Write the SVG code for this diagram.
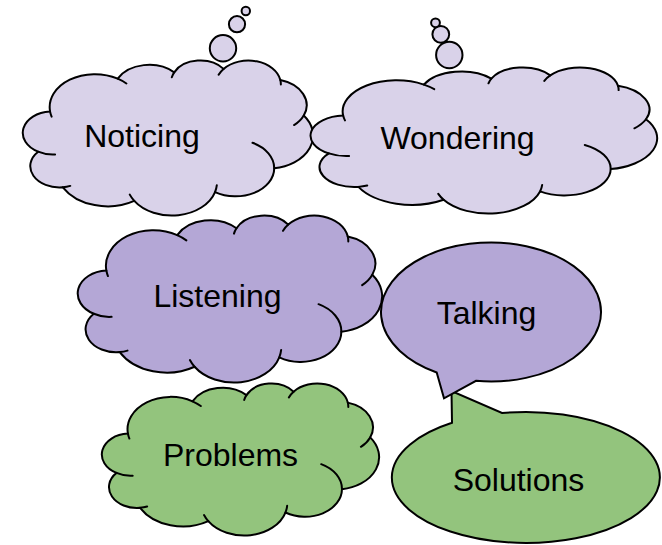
<svg xmlns="http://www.w3.org/2000/svg" xmlns:xlink="http://www.w3.org/1999/xlink" width="662" height="545" viewBox="0 0 662 545">
<style>
.ol { stroke: #000; stroke-width: 2; vector-effect: non-scaling-stroke; stroke-linejoin: round; }
.hk { fill: none; stroke: #000; stroke-width: 2; vector-effect: non-scaling-stroke; stroke-linecap: round; }
.sh { stroke: #000; stroke-width: 2; stroke-linejoin: miter; }
.lt { fill: #D9D2E9; }
.md { fill: #B4A7D6; }
.gr { fill: #93C47D; }
text { font-family: "Liberation Sans", Arial, sans-serif; font-size: 32px; fill: #000; text-anchor: middle; }
</style>
<defs>
<path id="cloud" class="ol" d="M3900,14370 A6753,9190 0 0,1 14005,5202 A5333,7267 0 0,1 22456,3432 A4365,5945 0 0,1 29833,2481 A4857,6595 0 0,1 38318,5576 A5333,7273 0 0,1 41819,15460 A6775,9220 0 0,1 37405,30203 A5785,7867 0 0,1 28556,36813 A6752,9215 0 0,1 16481,39264 A7720,10543 0 0,1 5805,35470 A4360,5918 0 0,1 2114,25548 A4345,5945 0 0,1 3900,14370 Z"/>
<path id="hooks" class="hk" d="M4647,26345 A4345,5945 0 0,1 2114,25548 M6913,35089 A4360,5918 0 0,1 5805,35470 M16481,39264 A6752,9215 0 0,1 15813,37524 M28823,34904 A6752,9215 0 0,1 28556,36813 M34153,23067 A5785,7867 0 0,1 37405,30203 M41819,15460 A5333,7273 0 0,1 40371,18135 M38318,5576 A4857,6595 0 0,1 38395,6840 M29092,4093 A4857,6595 0 0,1 29833,2481 M22097,4822 A4365,5945 0 0,1 22456,3432 M14005,5202 A6753,9190 0 0,1 15305,6550 M4127,15789 A6753,9190 0 0,1 3900,14370"/>
</defs>

<g id="noticing">
<circle class="lt sh" cx="223" cy="48.3" r="13.2"/>
<circle class="lt sh" cx="237" cy="24.2" r="8.1"/>
<circle class="lt sh" cx="245.8" cy="11" r="4.2"/>
<g transform="translate(24,60) scale(0.0066898,0.003588)">
<use href="#cloud" class="lt"/>
<use href="#hooks"/>
</g>
<text x="142" y="146.5">Noticing</text>
</g>

<g id="wondering">
<circle class="lt sh" cx="449.3" cy="55" r="13.2"/>
<circle class="lt sh" cx="440.8" cy="34.3" r="8.4"/>
<circle class="lt sh" cx="435.5" cy="22.8" r="4.4"/>
<g transform="translate(312,67) scale(0.0079861,0.0033796)">
<use href="#cloud" class="lt"/>
<use href="#hooks"/>
</g>
<text x="457.5" y="149.3">Wondering</text>
</g>

<g id="listening">
<g transform="translate(79,215) scale(0.0070139,0.0038657)">
<use href="#cloud" class="md"/>
<use href="#hooks"/>
</g>
<text x="217.5" y="306.7">Listening</text>
</g>

<g id="problems">
<g transform="translate(103,383) scale(0.0063889,0.0035185)">
<use href="#cloud" class="gr"/>
<use href="#hooks"/>
</g>
<text x="230.5" y="466">Problems</text>
</g>

<g id="solutions">
<path class="gr sh" d="M452,422.8 L451.5,391 L502,413 A134,65.5 0 1,1 452,422.8 Z"/>
<text x="518.5" y="491">Solutions</text>
</g>

<g id="talking">
<path class="md sh" d="M476,380.85 A110,69.5 0 1,0 436.7,372.44 L444,398.3 Z"/>
<text x="486.5" y="323.5">Talking</text>
</g>

<g id="connectors"></g>
</svg>
